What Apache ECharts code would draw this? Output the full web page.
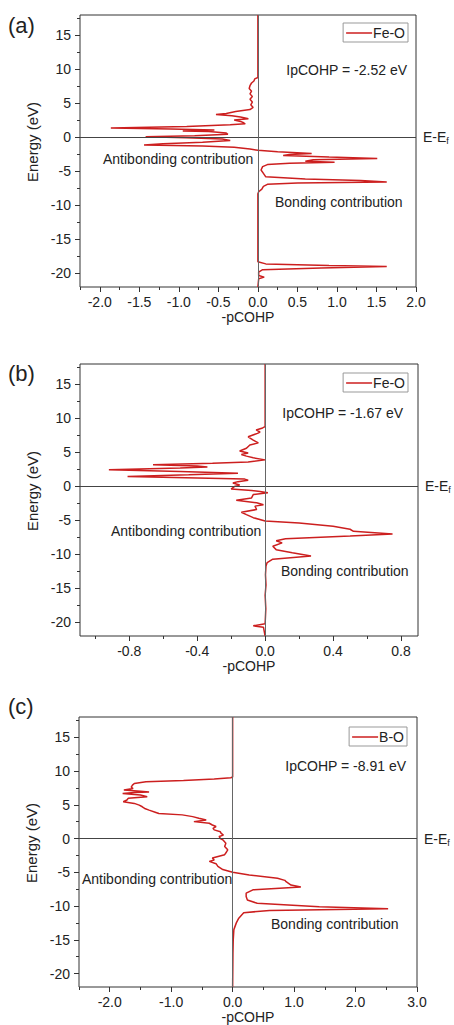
<!DOCTYPE html>
<html>
<head>
<meta charset="utf-8">
<script src="https://cdn.jsdelivr.net/npm/echarts@6/dist/echarts.min.js"></script>
<style>
html,body{margin:0;padding:0;background:#fff;}
#chart{width:454px;height:1025px;}
</style>
</head>
<body>
<div id="chart"></div>
<script>
// ---------- data ----------
const panelLabels = ['(a)', '(b)', '(c)'];
const bondNames = ['Fe-O', 'Fe-O', 'B-O'];
const ipcohpValues = ['-2.52', '-1.67', '-8.91'];

// Panel (a): energy (eV) and -pCOHP
const energyA = [18,8.8,8.6,8.3,8.0,7.6,7.2,6.8,6.4,6.0,5.6,5.2,4.8,4.4,4.1,3.8,3.5,3.35,3.2,3.0,2.75,2.55,2.35,2.15,2.0,1.85,1.6,1.4,1.25,1.1,0.95,0.85,0.65,0.45,0.25,0.1,-0.05,-0.25,-0.45,-0.7,-0.95,-1.1,-1.25,-1.45,-1.7,-1.9,-2.1,-2.35,-2.5,-2.65,-2.9,-3.1,-3.3,-3.5,-3.65,-3.8,-4.0,-4.3,-4.8,-5.3,-5.8,-6.1,-6.35,-6.55,-6.7,-6.9,-7.2,-7.6,-8.0,-8.3,-18.3,-18.6,-18.85,-19.0,-19.2,-19.45,-19.8,-20.3,-20.55,-20.8,-22];
const cohpA = [0,0,-0.04,-0.05,-0.08,-0.1,-0.11,-0.08,-0.1,-0.07,-0.1,-0.07,-0.09,-0.06,-0.1,-0.28,-0.4,-0.53,-0.33,-0.22,-0.12,-0.3,-0.22,-0.18,-0.16,-0.35,-0.9,-1.86,-1.1,-0.55,-0.95,-0.62,-0.4,-0.38,-0.8,-1.42,-0.9,-0.45,-0.35,-0.7,-1.2,-1.44,-0.7,-0.3,-0.1,0,0.25,0.68,0.4,0.32,0.9,1.51,0.7,0.6,0.97,0.4,0.12,0.06,0.04,0.07,0.1,0.6,1.3,1.63,0.5,0.12,0.07,0.05,0.01,0,0,0.1,0.9,1.63,0.8,0.06,0.01,0.01,0.08,0.01,0];

// Panel (b)
const energyB = [18,8.8,8.6,8.3,8.0,7.8,7.3,6.8,6.4,6.1,5.6,5.2,4.9,4.7,4.45,4.2,3.9,3.6,3.4,3.2,3.0,2.85,2.7,2.45,2.2,1.95,1.7,1.46,1.25,1.07,0.9,0.7,0.5,0.2,0.0,-0.4,-0.6,-0.75,-0.95,-1.2,-1.7,-2.05,-2.4,-2.7,-2.9,-3.4,-3.8,-4.15,-4.6,-5.1,-5.4,-5.85,-6.3,-6.6,-7.0,-7.3,-7.7,-8.0,-8.3,-8.8,-9.3,-9.75,-10.25,-10.7,-11.2,-11.7,-13,-14.5,-16,-18,-20.2,-20.5,-20.7,-22];
const cohpB = [0,0,-0.015,-0.053,-0.03,-0.045,-0.1,-0.07,-0.04,-0.09,-0.11,-0.15,-0.1,-0.14,-0.11,-0.07,0,-0.1,-0.31,-0.66,-0.4,-0.34,-0.5,-0.92,-0.5,-0.16,-0.45,-0.81,-0.4,-0.12,-0.1,-0.16,-0.19,-0.15,-0.18,-0.2,-0.08,-0.03,0.016,-0.07,-0.08,-0.17,-0.05,-0.01,-0.06,-0.05,-0.14,-0.11,-0.07,0,0.2,0.4,0.5,0.52,0.75,0.5,0.12,0.065,0.1,0.045,0.065,0.16,0.27,0.045,0.012,0.005,0.002,0.005,0,0.004,0,-0.07,-0.01,0];

// Panel (c)
const energyC = [18,9.1,9.0,8.8,8.6,8.4,8.15,7.9,7.6,7.4,7.17,7.0,6.9,6.8,6.68,6.45,6.2,5.95,5.7,5.45,5.2,4.95,4.7,4.4,4.2,3.9,3.7,3.5,3.24,3.0,2.75,2.5,2.26,2.0,1.77,1.5,1.28,1.0,0.79,0.5,0.3,0.0,-0.2,-0.69,-1.18,-1.67,-2.0,-2.4,-2.9,-3.2,-3.39,-3.73,-4.12,-4.6,-5.0,-5.4,-5.9,-6.2,-6.4,-6.9,-7.2,-7.6,-8.1,-8.6,-9.1,-9.6,-10.1,-10.4,-10.65,-11.0,-11.8,-12.5,-13.5,-15,-17,-22];
const cohpC = [0,0,-0.03,-0.3,-0.8,-1.41,-1.6,-1.63,-1.65,-1.62,-1.77,-1.5,-1.36,-1.6,-1.79,-1.5,-1.39,-1.7,-1.72,-1.78,-1.6,-1.52,-1.47,-1.42,-1.36,-1.26,-1.2,-0.82,-0.65,-0.55,-0.43,-0.63,-0.38,-0.33,-0.27,-0.32,-0.3,-0.2,-0.19,-0.15,-0.22,-0.2,-0.16,-0.11,-0.13,-0.08,-0.1,-0.13,-0.33,-0.3,-0.38,-0.27,-0.24,-0.16,0,0.27,0.73,0.85,0.87,0.95,1.11,0.33,0.22,0.22,0.24,0.4,1.41,2.53,0.6,0.18,0.1,0.06,0.02,0.01,0.005,0];

// tick labels
const xTicksA = [-2.0,-1.5,-1.0,-0.5,0.0,0.5,1.0,1.5,2.0];
const xMinorA = [-2.25,-1.75,-1.25,-0.75,-0.25,0.25,0.75,1.25,1.75];
const xTicksB = [-0.8,-0.4,0.0,0.4,0.8];
const xMinorB = [-1.0,-0.6,-0.2,0.2,0.6];
const xTicksC = [-2.0,-1.0,0.0,1.0,2.0,3.0];
const xMinorC = [-2.5,-1.5,-0.5,0.5,1.5,2.5];
const yTicks = [-20,-15,-10,-5,0,5,10,15];
const yMinor = [-17.5,-12.5,-7.5,-2.5,2.5,7.5,12.5,17.5];
const xRanges = [[-2.25,2.0],[-1.09,0.9],[-2.5,3.0]];
const yRange = [-22,18];

// ---------- layout / style ----------
const FONT = 'Arial, "Liberation Sans", Helvetica, sans-serif';
const TXT = '#222';
const RED = '#cc1f1f';
const grids = [
  {left:80, top:15, width:336, height:272},
  {left:80, top:364, width:338, height:272},
  {left:79, top:717, width:338, height:271}
];
const legendPos = [{right:46, top:23},{right:46, top:373},{right:47, top:727}];
const textPos = [
  {ip:[407,70], anti:[103,159], bond:[275,202], lab:[8,25]},
  {ip:[403,413], anti:[111,531], bond:[281,571], lab:[8,373]},
  {ip:[406,766], anti:[82,879], bond:[271,924], lab:[8,706]}
];
const energies = [energyA, energyB, energyC];
const cohps = [cohpA, cohpB, cohpC];
const xTicks = [xTicksA, xTicksB, xTicksC];
const xMinors = [xMinorA, xMinorB, xMinorC];

const option = {
  backgroundColor: '#fff',
  animation: false,
  textStyle: {fontFamily: FONT},
  grid: [], xAxis: [], yAxis: [], series: [], legend: [], graphic: []
};

for (let p = 0; p < 3; p++) {
  option.grid.push(Object.assign({show:true, borderColor:'#333', borderWidth:1, backgroundColor:'transparent'}, grids[p]));
  const fmt = v => Number(v).toFixed(1);
  option.xAxis.push({
    type:'value', gridIndex:p, min:xRanges[p][0], max:xRanges[p][1], position:'bottom',
    name:'-pCOHP', nameLocation:'middle', nameGap:23,
    nameTextStyle:{fontSize:14, color:TXT, fontFamily:FONT},
    axisLine:{show:false, onZero:false}, splitLine:{show:false},
    axisTick:{show:true, inside:false, length:5, customValues:xTicks[p], lineStyle:{color:'#333'}},
    axisLabel:{show:true, customValues:xTicks[p], formatter:fmt, fontSize:14, color:TXT, margin:8, fontFamily:FONT}
  });
  option.xAxis.push({
    type:'value', gridIndex:p, min:xRanges[p][0], max:xRanges[p][1], position:'bottom',
    axisLine:{show:false, onZero:false}, splitLine:{show:false},
    axisTick:{show:true, inside:false, length:3, customValues:xMinors[p], lineStyle:{color:'#333'}},
    axisLabel:{show:false}
  });
  option.yAxis.push({
    type:'value', gridIndex:p, min:yRange[0], max:yRange[1], position:'left',
    name:'Energy (eV)', nameLocation:'middle', nameGap:28, nameRotate:90,
    nameTextStyle:{fontSize:15, color:TXT, fontFamily:FONT, padding:[0,0,0,18]},
    axisLine:{show:false, onZero:false}, splitLine:{show:false},
    axisTick:{show:true, inside:false, length:5, customValues:yTicks, lineStyle:{color:'#333'}},
    axisLabel:{show:true, customValues:yTicks, fontSize:14, color:TXT, margin:9, fontFamily:FONT}
  });
  option.yAxis.push({
    type:'value', gridIndex:p, min:yRange[0], max:yRange[1], position:'left',
    axisLine:{show:false, onZero:false}, splitLine:{show:false},
    axisTick:{show:true, inside:false, length:3, customValues:yMinor, lineStyle:{color:'#333'}},
    axisLabel:{show:false}
  });
  option.series.push({
    type:'line', name:'zero'+p, xAxisIndex:2*p, yAxisIndex:2*p, data:[], z:1, silent:true,
    markLine:{
      silent:true, symbol:['none','none'], animation:false,
      data:[
        {yAxis:0, lineStyle:{color:'#444', width:1, type:'solid'},
         label:{show:true, position:'end', distance:7, formatter:'{a|E-E}{b|f}',
           rich:{a:{fontSize:14, color:TXT, fontFamily:FONT}, b:{fontSize:9, color:TXT, fontFamily:FONT, padding:[8,0,0,0]}}}},
        {xAxis:0, lineStyle:{color:'#666', width:1, type:'solid'}, label:{show:false}}
      ]
    }
  });
  const e = energies[p], c = cohps[p];
  option.series.push({
    type:'line', name:bondNames[p], xAxisIndex:2*p, yAxisIndex:2*p, z:3,
    data: c.map((v,i) => [v, e[i]]),
    symbol:'none', showSymbol:false, smooth:false, clip:true,
    lineStyle:{color:RED, width:1.5}, itemStyle:{color:RED}
  });
  option.legend.push(Object.assign({
    data:[{name:bondNames[p], icon:'rect'}], orient:'vertical', selectedMode:false,
    itemWidth:26, itemHeight:1.5, itemGap:0,
    padding:[3,3,2,3], borderColor:'#999', borderWidth:1, backgroundColor:'#fff',
    itemStyle:{color:RED, borderWidth:0},
    textStyle:{fontSize:14, color:TXT, fontFamily:FONT, padding:[0,0,0,-4]}
  }, legendPos[p]));
  const tp = textPos[p];
  option.graphic.push(
    {type:'text', x:tp.ip[0], y:tp.ip[1], style:{text:'IpCOHP = ' + ipcohpValues[p] + ' eV', fill:TXT, font:'14px ' + FONT, textAlign:'right', textVerticalAlign:'middle'}},
    {type:'text', x:tp.anti[0], y:tp.anti[1], style:{text:'Antibonding contribution', fill:TXT, font:'14px ' + FONT, textAlign:'left', textVerticalAlign:'middle'}},
    {type:'text', x:tp.bond[0], y:tp.bond[1], style:{text:'Bonding contribution', fill:TXT, font:'14px ' + FONT, textAlign:'left', textVerticalAlign:'middle'}},
    {type:'text', x:tp.lab[0], y:tp.lab[1], style:{text:panelLabels[p], fill:TXT, font:'22px ' + FONT, textAlign:'left', textVerticalAlign:'middle'}}
  );
}

const chart = echarts.init(document.getElementById('chart'), null, {renderer:'svg'});
chart.setOption(option);
</script>
</body>
</html>
